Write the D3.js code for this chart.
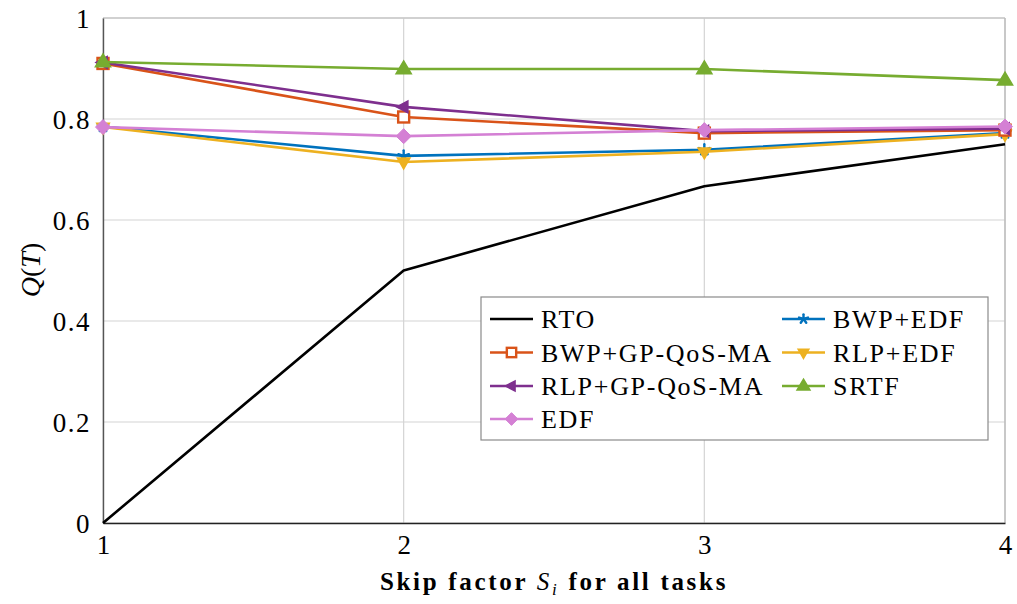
<!DOCTYPE html>
<html>
<head>
<meta charset="utf-8">
<script src="https://cdn.jsdelivr.net/npm/d3@7/dist/d3.min.js"></script>
<style>
  body { margin: 0; }
  #chart, #chart text, #chart tspan { font-family: "Liberation Serif", serif !important; }
</style>
</head>
<body>
<svg id="chart" width="1017" height="604" font-family="Liberation Serif"></svg>
<script>
// Skip factor values on the x axis
const skipFactors = [1, 2, 3, 4];

// Quality Q(T) per scheduler
const rto       = [0, 0.5, 0.667, 0.75];
const bwpGp     = [0.910, 0.804, 0.772, 0.778];
const rlpGp     = [0.912, 0.824, 0.776, 0.781];
const edf       = [0.784, 0.766, 0.778, 0.785];
const bwpEdf    = [0.785, 0.727, 0.739, 0.772];
const rlpEdf    = [0.784, 0.715, 0.735, 0.770];
const srtf      = [0.913, 0.899, 0.899, 0.877];

const yTicks = [0, 0.2, 0.4, 0.6, 0.8, 1];
const yTickLabels = ["0", "0.2", "0.4", "0.6", "0.8", "1"];

const series = [
  { name: "RTO",            values: rto,    color: "#000000", marker: "none",     col: 0, row: 0 },
  { name: "BWP+GP-QoS-MA",  values: bwpGp,  color: "#D95319", marker: "square",   col: 0, row: 1 },
  { name: "RLP+GP-QoS-MA",  values: rlpGp,  color: "#7E2F8E", marker: "triLeft",  col: 0, row: 2 },
  { name: "EDF",            values: edf,    color: "#D480D4", marker: "diamond",  col: 0, row: 3 },
  { name: "BWP+EDF",        values: bwpEdf, color: "#0072BD", marker: "star",     col: 1, row: 0 },
  { name: "RLP+EDF",        values: rlpEdf, color: "#EDB120", marker: "triDown",  col: 1, row: 1 },
  { name: "SRTF",           values: srtf,   color: "#77AC30", marker: "triUp",    col: 1, row: 2 }
];
// painting order in the plot area
const drawOrder = ["RTO", "BWP+EDF", "RLP+EDF", "BWP+GP-QoS-MA", "RLP+GP-QoS-MA", "EDF", "SRTF"];

const svg = d3.select("#chart");
const plot = { left: 103, right: 1005, top: 18, bottom: 523 };

const x = d3.scaleLinear().domain([1, 4]).range([plot.left, plot.right]);
const y = d3.scaleLinear().domain([0, 1]).range([plot.bottom, plot.top]);

// grid
const grid = svg.append("g");
grid.selectAll("line.gx").data(skipFactors).join("line")
  .attr("x1", d => x(d)).attr("x2", d => x(d))
  .attr("y1", plot.top).attr("y2", plot.bottom)
  .attr("stroke", "#d4d4d4").attr("stroke-width", 1.2);
grid.selectAll("line.gy").data(yTicks).join("line")
  .attr("x1", plot.left).attr("x2", plot.right)
  .attr("y1", d => y(d)).attr("y2", d => y(d))
  .attr("stroke", "#d4d4d4").attr("stroke-width", 1.2);

// frame: light top/right, dark left/bottom
svg.append("line").attr("x1", plot.left).attr("x2", plot.right).attr("y1", plot.top).attr("y2", plot.top)
  .attr("stroke", "#c8c8c8").attr("stroke-width", 1.3);
svg.append("line").attr("x1", plot.right).attr("x2", plot.right).attr("y1", plot.top).attr("y2", plot.bottom)
  .attr("stroke", "#b8b8b8").attr("stroke-width", 1.3);

// axes
const yAxis = d3.axisLeft(y).tickValues(yTicks).tickFormat((d, i) => yTickLabels[i]).tickSize(0).tickPadding(12);
const xAxis = d3.axisBottom(x).tickValues(skipFactors).tickFormat(d3.format("d")).tickSize(0).tickPadding(9);

const gy = svg.append("g").attr("transform", `translate(${plot.left},0)`).call(yAxis);
gy.attr("font-family", "Liberation Serif").attr("font-size", 27);
gy.select(".domain").attr("stroke", "#555").attr("stroke-width", 1.4);
gy.selectAll("text").attr("fill", "#000").attr("dy", "0.34em").attr("letter-spacing", 1.5);

const gx = svg.append("g").attr("transform", `translate(0,${plot.bottom})`).call(xAxis);
gx.attr("font-family", "Liberation Serif").attr("font-size", 27);
gx.select(".domain").attr("stroke", "#222").attr("stroke-width", 1.4);
gx.selectAll("text").attr("fill", "#000").attr("dy", "0.8em");

// marker drawing
function drawMarker(g, type, cx, cy, color, scale) {
  const s = scale || 1;
  if (type === "none") return;
  if (type === "square") {
    const h = 5.5 * s;
    g.append("rect").attr("x", cx - h).attr("y", cy - h).attr("width", 2 * h).attr("height", 2 * h)
      .attr("fill", "#fff").attr("stroke", color).attr("stroke-width", 2.4);
  } else if (type === "triLeft") {
    const r = 7 * s;
    g.append("path").attr("d", `M${cx - r},${cy} L${cx + r * 0.6},${cy - r * 0.85} L${cx + r * 0.6},${cy + r * 0.85} Z`)
      .attr("fill", color).attr("stroke", color).attr("stroke-width", 1.5);
  } else if (type === "triUp") {
    const r = 8 * s;
    g.append("path").attr("d", `M${cx},${cy - r} L${cx + r * 0.95},${cy + r * 0.6} L${cx - r * 0.95},${cy + r * 0.6} Z`)
      .attr("fill", color).attr("stroke", color).attr("stroke-width", 1.5);
  } else if (type === "triDown") {
    const r = 7 * s;
    g.append("path").attr("d", `M${cx},${cy + r} L${cx + r * 0.9},${cy - r * 0.55} L${cx - r * 0.9},${cy - r * 0.55} Z`)
      .attr("fill", color).attr("stroke", color).attr("stroke-width", 1.5);
  } else if (type === "diamond") {
    const r = 7.5 * s;
    g.append("path").attr("d", `M${cx},${cy - r} L${cx + r},${cy} L${cx},${cy + r} L${cx - r},${cy} Z`)
      .attr("fill", color).attr("stroke", color).attr("stroke-width", 1);
  } else if (type === "star") {
    const r = 5.5 * s;
    const gs = g.append("g").attr("stroke", color).attr("stroke-width", 2.4).attr("stroke-linecap", "round");
    for (let k = 0; k < 5; k++) {
      const a = -Math.PI / 2 + k * 2 * Math.PI / 5;
      gs.append("line").attr("x1", cx).attr("y1", cy)
        .attr("x2", cx + r * Math.cos(a)).attr("y2", cy + r * Math.sin(a));
    }
  }
}

const line = d3.line().x((d, i) => x(skipFactors[i])).y(d => y(d));
const marks = svg.append("g");
drawOrder.forEach(name => {
  const s = series.find(t => t.name === name);
  const g = marks.append("g");
  g.append("path").attr("d", line(s.values)).attr("fill", "none")
    .attr("stroke", s.color).attr("stroke-width", 2.6).attr("stroke-linejoin", "round");
  s.values.forEach((v, i) => drawMarker(g, s.marker, x(skipFactors[i]), y(v), s.color, 1));
});

// legend
const legend = svg.append("g").attr("font-family", "Liberation Serif");
const lg = { x: 481, y: 297, w: 507, h: 143 };
legend.append("rect").attr("x", lg.x).attr("y", lg.y).attr("width", lg.w).attr("height", lg.h)
  .attr("fill", "#fff").attr("stroke", "#8a8a8a").attr("stroke-width", 1.2);
const colX = [490, 782];
const rowY = [319, 352.5, 386, 419];
series.forEach(s => {
  const lx = colX[s.col], ly = rowY[s.row];
  legend.append("line").attr("x1", lx).attr("x2", lx + 43).attr("y1", ly).attr("y2", ly)
    .attr("stroke", s.color).attr("stroke-width", 2.6);
  drawMarker(legend, s.marker, lx + 21.5, ly, s.color, 0.85);
  legend.append("text").attr("x", lx + 51).attr("y", ly + 9)
    .attr("font-size", 26).attr("letter-spacing", 1.7)
    .attr("fill", "#000").text(s.name);
});

// axis titles
const xt = svg.append("text").attr("x", 554).attr("y", 590).attr("text-anchor", "middle")
  .attr("font-size", 25).attr("font-weight", "bold")
  .attr("letter-spacing", 2.7).attr("fill", "#000");
xt.append("tspan").text("Skip factor ");
xt.append("tspan").attr("font-style", "italic").attr("font-weight", "normal").text("S");
xt.append("tspan").attr("font-style", "italic").attr("font-weight", "normal").attr("font-size", 17).attr("dy", 5).text("i");
xt.append("tspan").attr("dy", -5).text(" for all tasks");

const yt = svg.append("text").attr("transform", "translate(40,270) rotate(-90)").attr("text-anchor", "middle")
  .attr("font-size", 28).attr("fill", "#000");
yt.append("tspan").attr("font-style", "italic").text("Q");
yt.append("tspan").text("(");
yt.append("tspan").attr("font-style", "italic").text("T");
yt.append("tspan").text(")");
</script>
</body>
</html>
